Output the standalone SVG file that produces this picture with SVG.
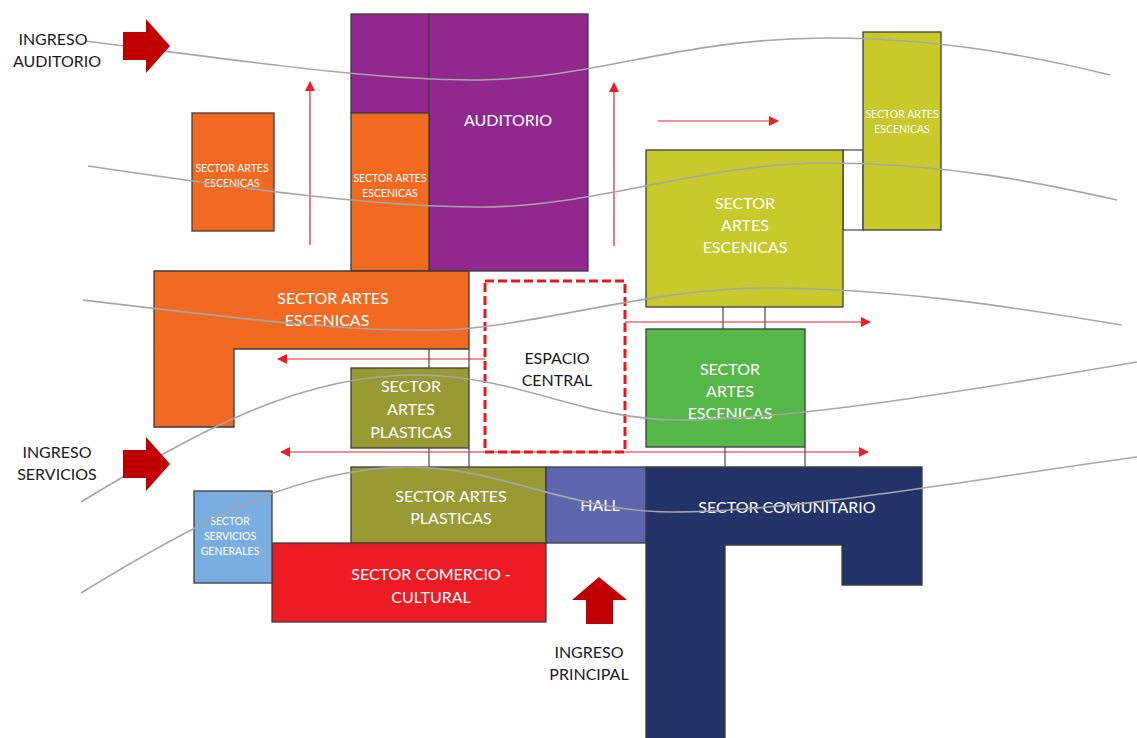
<svg xmlns="http://www.w3.org/2000/svg" width="1137" height="738" viewBox="0 0 1137 738">
<defs>
<marker id="ah" viewBox="0 0 10 10" refX="9" refY="5" markerWidth="10" markerHeight="10" markerUnits="userSpaceOnUse" orient="auto-start-reverse">
<path d="M0,0 L10,5 L0,10 Z" fill="#ee1c24"/>
</marker>
<style>
.b{stroke:#3d3d3d;stroke-width:1.3}
.t{font-family:Lato,"Open Sans",sans-serif;fill:#fff;text-anchor:middle}
.k{font-family:Lato,"Open Sans",sans-serif;fill:#1a1a1a;text-anchor:middle;font-size:16px}
.a{stroke:#ee1c24;stroke-width:1.2;fill:none}
.c{stroke:#555;stroke-width:1.3;fill:none}
.g{stroke:#a6a6a6;stroke-width:1.6;fill:none}
.big{fill:#c00000}
</style>
</defs>
<rect width="1137" height="738" fill="#fff"/>

<g id="connectors">
<rect x="843" y="150" width="20" height="80" fill="#fff" class="c"/>
<line x1="429" y1="349" x2="429" y2="368" class="c"/>
<line x1="469" y1="349" x2="469" y2="368" class="c"/>
<line x1="429" y1="448" x2="429" y2="467" class="c"/>
<line x1="469" y1="448" x2="469" y2="467" class="c"/>
<line x1="723" y1="307" x2="723" y2="329" class="c"/>
<line x1="765" y1="307" x2="765" y2="329" class="c"/>
<line x1="725" y1="447" x2="725" y2="467" class="c"/>
<line x1="805" y1="447" x2="805" y2="467" class="c"/>
<line x1="310" y1="245" x2="310" y2="82" class="a" marker-end="url(#ah)"/>
<line x1="614" y1="246" x2="614" y2="83" class="a" marker-end="url(#ah)"/>
<line x1="658" y1="121" x2="778" y2="121" class="a" marker-end="url(#ah)"/>
<line x1="625" y1="322" x2="870" y2="322" class="a" marker-end="url(#ah)"/>
<line x1="485" y1="359" x2="278" y2="359" class="a" marker-end="url(#ah)"/>
<line x1="281" y1="452" x2="868" y2="452" class="a" marker-start="url(#ah)" marker-end="url(#ah)"/>
</g>

<g id="auditorio">
<rect x="351" y="14" width="78" height="99" fill="#92278f" class="b"/>
<rect x="429" y="14" width="159" height="257" fill="#92278f" class="b"/>
<text x="508" y="126" class="t" font-size="16">AUDITORIO</text>
</g>
<g id="artes-escenicas-aud">
<rect x="351" y="113" width="78" height="158" fill="#f26a22" class="b"/>
<text x="390" y="182" class="t" font-size="10.5">SECTOR ARTES</text>
<text x="390" y="197" class="t" font-size="10.5">ESCENICAS</text>
</g>
<g id="artes-escenicas-small">
<rect x="192" y="113" width="82" height="118" fill="#f26a22" class="b"/>
<text x="232" y="172" class="t" font-size="10.5">SECTOR ARTES</text>
<text x="232" y="187" class="t" font-size="10.5">ESCENICAS</text>
</g>
<g id="artes-escenicas-l">
<path d="M154,271 H469 V349 H234 V427 H154 Z" fill="#f26a22" class="b"/>
<text x="333" y="304" class="t" font-size="16">SECTOR ARTES</text>
<text x="327" y="326" class="t" font-size="16">ESCENICAS</text>
</g>
<g id="artes-escenicas-tall">
<rect x="863" y="32" width="78" height="198" fill="#c8c92a" class="b"/>
<text x="902" y="118" class="t" font-size="10.5">SECTOR ARTES</text>
<text x="902" y="133" class="t" font-size="10.5">ESCENICAS</text>
</g>
<g id="artes-escenicas-yellow">
<rect x="646" y="150" width="197" height="157" fill="#c8c92a" class="b"/>
<text x="745" y="209" class="t" font-size="16">SECTOR</text>
<text x="745" y="231" class="t" font-size="16">ARTES</text>
<text x="745" y="253" class="t" font-size="16">ESCENICAS</text>
</g>
<g id="espacio-central">
<rect x="485" y="281" width="140" height="171" fill="none" stroke="#e8161c" stroke-width="3" stroke-dasharray="9,4"/>
<text x="557" y="364" class="k">ESPACIO</text>
<text x="557" y="386" class="k">CENTRAL</text>
</g>
<g id="artes-escenicas-green">
<rect x="646" y="329" width="159" height="118" fill="#56b848" class="b"/>
<text x="730" y="375" class="t" font-size="16">SECTOR</text>
<text x="730" y="397" class="t" font-size="16">ARTES</text>
<text x="730" y="419" class="t" font-size="16">ESCENICAS</text>
</g>
<g id="artes-plasticas-1">
<rect x="351" y="368" width="118" height="80" fill="#9a9a35" class="b"/>
<text x="411" y="392" class="t" font-size="16">SECTOR</text>
<text x="411" y="415" class="t" font-size="16">ARTES</text>
<text x="411" y="438" class="t" font-size="16">PLASTICAS</text>
</g>
<g id="artes-plasticas-2">
<rect x="351" y="467" width="195" height="76" fill="#9a9a35" class="b"/>
<text x="451" y="502" class="t" font-size="16">SECTOR ARTES</text>
<text x="451" y="524" class="t" font-size="16">PLASTICAS</text>
</g>
<g id="hall">
<rect x="546" y="467" width="100" height="76" fill="#5f66b0" class="b"/>
<text x="600" y="511" class="t" font-size="16">HALL</text>
</g>
<g id="comunitario">
<path d="M646,467 H922 V585 H842 V545 H725 V745 H646 Z" fill="#22336a" class="b"/>
<text x="787" y="513" class="t" font-size="16">SECTOR COMUNITARIO</text>
</g>
<g id="comercio">
<rect x="272" y="543" width="274" height="79" fill="#ed1c24" class="b"/>
<text x="431" y="580" class="t" font-size="16">SECTOR COMERCIO -</text>
<text x="431" y="603" class="t" font-size="16">CULTURAL</text>
</g>
<g id="servicios">
<rect x="194" y="491" width="78" height="92" fill="#7aaee0" class="b"/>
<text x="230" y="525" class="t" font-size="10.5">SECTOR</text>
<text x="230" y="540" class="t" font-size="10.5">SERVICIOS</text>
<text x="230" y="555" class="t" font-size="10.5">GENERALES</text>
</g>

<g id="flows">
<path class="g" d="M85,41 C250,62 380,81 480,80 C600,78 680,38 828,38 C950,38 1050,60 1110,75"/>
<path class="g" d="M88,166 C250,190 380,207 480,207 C600,207 700,163 828,163 C950,163 1050,185 1117,200"/>
<path class="g" d="M83,300 C250,320 350,332 440,330 C530,328 650,288 765,288 C900,288 1030,310 1122,325"/>
<path class="g" d="M81,502 C200,430 300,375 415,375 C520,375 580,420 680,420 C800,420 1000,385 1137,362"/>
<path class="g" d="M81,593 C200,520 300,467 410,467 C500,467 570,512 673,512 C800,512 1000,475 1137,457"/>
</g>

<g id="ingreso-auditorio">
<polygon class="big" points="123,32 146,32 146,19 170,46 146,73 146,60 123,60"/>
<text x="53" y="45" class="k">INGRESO</text>
<text x="57" y="67" class="k">AUDITORIO</text>
</g>
<g id="ingreso-servicios">
<polygon class="big" points="123,450 146,450 146,437 170,464 146,491 146,478 123,478"/>
<text x="57" y="458" class="k">INGRESO</text>
<text x="57" y="480" class="k">SERVICIOS</text>
</g>
<g id="ingreso-principal">
<polygon class="big" points="599,577 627,600 613,600 613,624 586,624 586,600 572,600"/>
<text x="589" y="658" class="k">INGRESO</text>
<text x="589" y="680" class="k">PRINCIPAL</text>
</g>
</svg>
